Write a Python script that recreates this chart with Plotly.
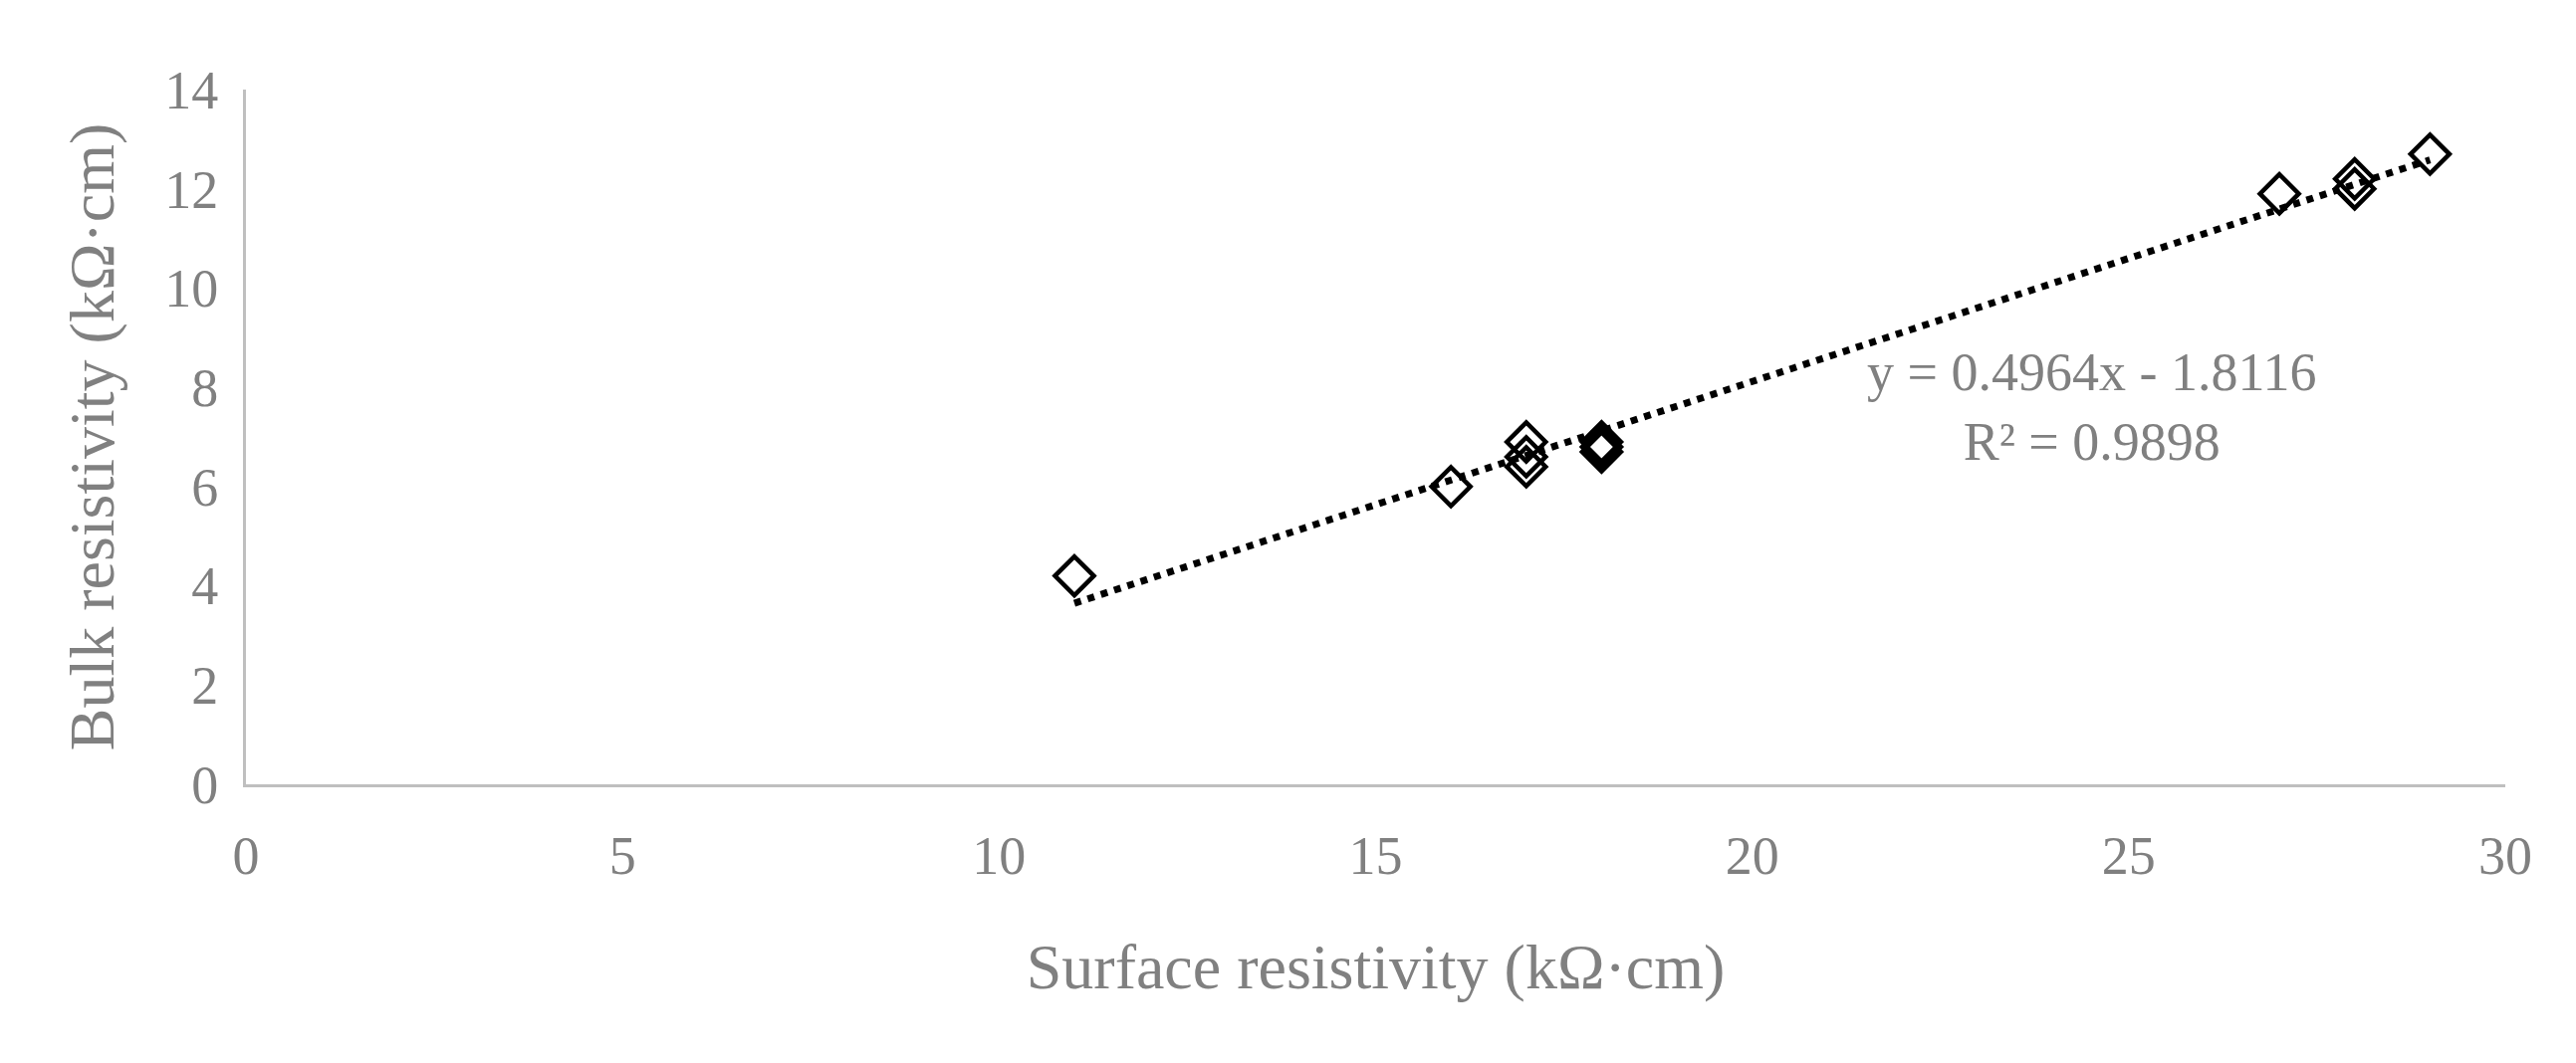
import plotly.graph_objects as go

surface = [11, 16, 17, 17, 17, 18, 18, 18, 27, 28, 28, 29]
bulk = [4.2, 6.0, 6.9, 6.6, 6.4, 6.9, 6.8, 6.7, 11.9, 12.2, 12.0, 12.7]
slope, intercept = 0.4964, -1.8116
trend_x = [11, 29]

fig = go.Figure()
fig.add_trace(go.Scatter(x=surface, y=bulk, mode="markers",
    marker=dict(symbol="diamond-open", size=30, color="black", line=dict(width=4.5))))
fig.add_trace(go.Scatter(x=trend_x, y=[slope*x+intercept for x in trend_x], mode="lines",
    line=dict(color="black", width=7, dash="dot")))
fig.add_annotation(x=24.5, y=7.6, xref="x", yref="y", showarrow=False,
    text="y = 0.4964x - 1.8116<br>R² = 0.9898", font=dict(size=54, color="#808080"))
font = "Liberation Serif"
fig.update_layout(width=2587, height=1068, showlegend=False, plot_bgcolor="white", paper_bgcolor="white",
    font=dict(family=font, color="#808080"),
    margin=dict(l=239, r=79, t=82, b=288),
    xaxis=dict(range=[0, 30], dtick=5, showgrid=False, showline=True, linecolor="#bfbfbf", linewidth=3,
        ticks="", tickfont=dict(size=54), zeroline=False, ticklabelstandoff=22,
        title=dict(text="Surface resistivity (kΩ·cm)", font=dict(size=64), standoff=60)),
    yaxis=dict(range=[0, 14], dtick=2, showgrid=False, showline=True, linecolor="#bfbfbf", linewidth=3,
        ticks="", tickfont=dict(size=54), zeroline=False, ticklabelstandoff=14,
        title=dict(text="Bulk resistivity (kΩ·cm)", font=dict(size=64), standoff=30)))
fig.write_html("out.html")
